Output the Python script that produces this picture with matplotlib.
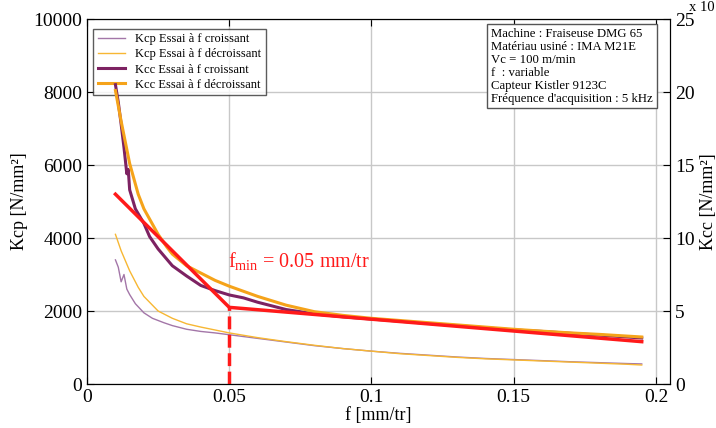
import matplotlib.pyplot as plt
import numpy as np

plt.rcParams['font.family'] = ['Liberation Serif', 'DejaVu Serif']
plt.rcParams['mathtext.fontset'] = 'custom'
plt.rcParams['mathtext.rm'] = 'Liberation Serif'

# Kcp (left axis, N/mm2)
f_kcp_cr = [0.010, 0.011, 0.012, 0.013, 0.014, 0.015, 0.017, 0.020, 0.023, 0.027, 0.030,
            0.035, 0.040, 0.045, 0.050, 0.060, 0.070, 0.080, 0.090, 0.100, 0.110, 0.120,
            0.130, 0.140, 0.150, 0.160, 0.170, 0.180, 0.190, 0.195]
kcp_cr = [3400, 3200, 2800, 3000, 2600, 2450, 2200, 1950, 1800, 1680, 1600,
          1500, 1440, 1400, 1350, 1250, 1150, 1050, 970, 900, 840, 790,
          740, 700, 670, 640, 610, 585, 560, 550]

f_kcp_de = [0.010, 0.012, 0.015, 0.018, 0.020, 0.025, 0.030, 0.035, 0.040, 0.045, 0.050,
            0.060, 0.070, 0.080, 0.090, 0.100, 0.110, 0.120, 0.130, 0.140, 0.150, 0.160,
            0.170, 0.180, 0.190, 0.195]
kcp_de = [4100, 3650, 3100, 2650, 2400, 2000, 1800, 1650, 1560, 1480, 1400,
          1270, 1160, 1060, 970, 900, 830, 780, 730, 690, 660, 630,
          600, 570, 540, 520]

# Kcc (right axis, x 10^3 N/mm2)
f_kcc_cr = [0.010, 0.011, 0.012, 0.013, 0.014, 0.0145, 0.015, 0.017, 0.020, 0.022, 0.025,
            0.030, 0.035, 0.040, 0.045, 0.050, 0.055, 0.060, 0.070, 0.080, 0.090, 0.100,
            0.110, 0.120, 0.130, 0.140, 0.150, 0.160, 0.170, 0.180, 0.190, 0.195]
kcc_cr = [20.5, 19.3, 17.8, 16.2, 14.4, 14.7, 13.3, 12.0, 11.0, 10.1, 9.25,
          8.1, 7.4, 6.75, 6.4, 6.1, 5.9, 5.6, 5.1, 4.8, 4.6, 4.45,
          4.3, 4.15, 4.0, 3.85, 3.7, 3.6, 3.47, 3.35, 3.22, 3.15]

f_kcc_de = [0.010, 0.012, 0.015, 0.018, 0.020, 0.025, 0.028, 0.030, 0.035, 0.040, 0.045,
            0.050, 0.060, 0.070, 0.080, 0.090, 0.100, 0.110, 0.120, 0.130, 0.140, 0.150,
            0.160, 0.170, 0.180, 0.190, 0.195]
kcc_de = [20.1, 18.0, 15.1, 13.0, 12.0, 10.25, 9.4, 8.9, 8.1, 7.6, 7.1,
          6.7, 6.0, 5.4, 4.95, 4.7, 4.5, 4.35, 4.2, 4.05, 3.9, 3.75,
          3.62, 3.5, 3.4, 3.28, 3.22]

# bilinear fit
f_fit = [0.010, 0.050, 0.195]
kcc_fit = [13.0, 5.25, 2.9]
f_min = 0.05

fig = plt.figure(figsize=(7.16, 4.28), dpi=100)
ax = fig.add_axes([0.1215, 0.1028, 0.8145, 0.8528])
ax2 = ax.twinx()

l1, = ax.plot(f_kcp_cr, kcp_cr, color='#a376a8', lw=1.0, label='Kcp Essai à f croissant')
l2, = ax.plot(f_kcp_de, kcp_de, color='#f7b733', lw=1.0, label='Kcp Essai à f décroissant')
l3, = ax2.plot(f_kcc_cr, kcc_cr, color='#7d2262', lw=2.2, label='Kcc Essai à f croissant')
l4, = ax2.plot(f_kcc_de, kcc_de, color='#f5a31a', lw=2.2, label='Kcc Essai à f décroissant')
ax2.plot(f_fit, kcc_fit, color='#ff1a1a', lw=2.5)
ax2.plot([f_min, f_min], [0, kcc_fit[1]], color='#ff1a1a', lw=2.5, ls='--')

ax.set_xlim(0, 0.205)
ax.set_ylim(0, 10000)
ax2.set_ylim(0, 25)
ax.set_xticks([0, 0.05, 0.1, 0.15, 0.2])
ax.set_xticklabels(['0', '0.05', '0.1', '0.15', '0.2'])
ax.set_yticks([0, 2000, 4000, 6000, 8000, 10000])
ax2.set_yticks([0, 5, 10, 15, 20, 25])
ax.grid(True, color='#c8c8c8', lw=1.0)
for a in (ax, ax2):
    a.tick_params(direction='in', labelsize=14, length=5)
ax.tick_params(top=True)

ax.set_xlabel('f [mm/tr]', fontsize=13, labelpad=1)
ax.set_ylabel('Kcp [N/mm²]', fontsize=13)
ax2.set_ylabel('Kcc [N/mm²]', fontsize=13)
fig.text(0.962, 0.998, 'x 10', fontsize=10.5, ha='left', va='top')

ax2.text(0.0495, 7.95, r'f$_{\mathrm{min}}$ = 0.05 mm/tr', color='#ff1a1a', fontsize=14.5)

leg = ax.legend(handles=[l1, l2, l3, l4], loc='upper left', fontsize=9, frameon=True,
                fancybox=False, edgecolor='#333333', borderpad=0.35, labelspacing=0.25,
                handlelength=2.2, bbox_to_anchor=(0.0, 0.99))
leg.get_frame().set_linewidth(1.0)

info = ('Machine : Fraiseuse DMG 65\nMatériau usiné : IMA M21E\nVc = 100 m/min\n'
        'f  : variable\nCapteur Kistler 9123C\nFréquence d\'acquisition : 5 kHz')
ax2.text(0.97, 0.975, info, transform=ax2.transAxes, fontsize=9.2, ha='right', va='top',
         multialignment='left', linespacing=1.1,
         bbox=dict(boxstyle='square,pad=0.3', fc='white', ec='#555555', lw=1.0))

fig.savefig('out.png', dpi=100)
